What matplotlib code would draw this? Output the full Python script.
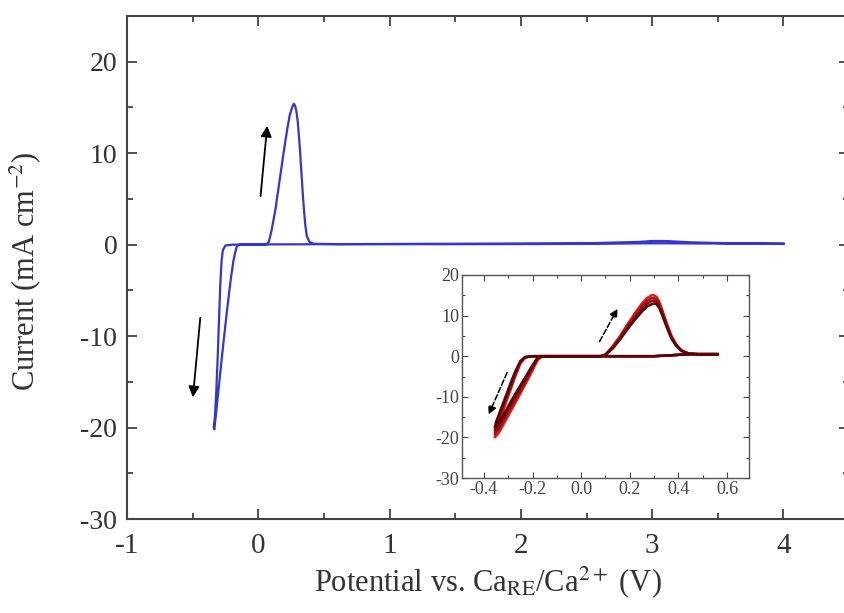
import matplotlib.pyplot as plt
from matplotlib.ticker import MultipleLocator

plt.rcParams['font.family'] = ['Liberation Serif', 'DejaVu Serif']
plt.rcParams['mathtext.fontset'] = 'stix'
plt.rcParams['axes.unicode_minus'] = False

# main CV (blue), potential in V, current in mA cm-2
main_v = [4.00, 3.60, 3.30, 3.10, 3.00, 2.90, 2.50, 1.50, 0.50, 0.00, -0.20,
          -0.25, -0.27, -0.28, -0.29, -0.30, -0.31, -0.32, -0.33, -0.34, -0.335,
          -0.32, -0.30, -0.27, -0.24, -0.21, -0.19, -0.17, -0.16, -0.14, 0.00,
          0.06, 0.08, 0.10, 0.13, 0.16, 0.19, 0.22, 0.24, 0.26, 0.27, 0.28,
          0.29, 0.30, 0.31, 0.32, 0.33, 0.34, 0.35, 0.36, 0.37, 0.39, 0.42,
          0.60, 1.50, 2.50, 3.00, 3.50, 4.00]
main_i = [0.10, 0.15, 0.25, 0.40, 0.40, 0.30, 0.15, 0.10, 0.05, 0.02, 0.00,
          -0.10, -0.60, -1.80, -4.50, -8.50, -12.5, -16.0, -18.8, -20.0, -20.2,
          -18.2, -15.4, -11.3, -7.40, -3.80, -1.80, -0.50, -0.10, 0.00, 0.00,
          0.00, 0.30, 1.50, 3.80, 6.80, 9.80, 12.6, 14.2, 15.1, 15.4, 15.2,
          14.6, 13.5, 11.8, 9.80, 7.50, 5.30, 3.40, 1.90, 0.90, 0.30, 0.10,
          0.05, 0.05, 0.08, 0.15, 0.12, 0.10]

# inset: repeated cycles (dark red / red)
cyc_v = [0.56, 0.50, 0.45, 0.30, 0.10, -0.10, -0.20, -0.23, -0.25, -0.27,
         -0.29, -0.31, -0.33, -0.35, -0.355, -0.34, -0.31, -0.28, -0.25,
         -0.22, -0.20, -0.18, -0.16, 0.00, 0.08, 0.10, 0.13, 0.16, 0.19,
         0.22, 0.25, 0.27, 0.29, 0.30, 0.31, 0.32, 0.33, 0.35, 0.37, 0.39,
         0.41, 0.43, 0.45, 0.48, 0.52, 0.56]
cyc_i = [
    [0.5, 0.5, 0.5, 0.0, 0.0, 0.0, 0.0, -0.3, -1.8, -4.8, -8.2, -11.5, -15.0,
     -18.6, -20.0, -19.0, -15.8, -12.5, -9.2, -5.8, -3.5, -1.0, 0.0, 0.0,
     0.0, 0.4, 2.5, 5.0, 7.8, 10.5, 13.0, 14.3, 15.0, 15.0, 14.6, 13.6,
     12.0, 8.5, 5.2, 3.0, 1.6, 0.9, 0.6, 0.5, 0.5, 0.5],
    [0.5, 0.5, 0.5, 0.0, 0.0, 0.0, 0.0, -0.3, -1.6, -4.4, -7.8, -11.0, -14.4,
     -17.8, -19.2, -18.2, -15.0, -11.8, -8.6, -5.3, -3.0, -0.8, 0.0, 0.0,
     0.0, 0.4, 2.3, 4.7, 7.4, 10.0, 12.4, 13.6, 14.3, 14.3, 14.0, 13.0,
     11.4, 8.0, 4.9, 2.8, 1.5, 0.9, 0.6, 0.5, 0.5, 0.5],
    [0.5, 0.5, 0.5, 0.0, 0.0, 0.0, 0.0, -0.2, -1.4, -4.0, -7.2, -10.4, -13.7,
     -17.0, -18.3, -17.4, -14.2, -11.0, -7.9, -4.8, -2.6, -0.6, 0.0, 0.0,
     0.0, 0.3, 2.1, 4.4, 7.0, 9.4, 11.7, 12.9, 13.6, 13.7, 13.4, 12.5,
     11.0, 7.7, 4.7, 2.7, 1.5, 0.9, 0.6, 0.5, 0.5, 0.5],
    [0.5, 0.5, 0.5, 0.0, 0.0, 0.0, 0.0, -0.2, -1.2, -3.6, -6.6, -9.8, -13.0,
     -16.2, -17.5, -16.6, -13.4, -10.2, -7.2, -4.2, -2.2, -0.4, 0.0, 0.0,
     0.0, 0.3, 1.9, 4.1, 6.6, 8.9, 11.0, 12.2, 12.8, 13.0, 12.8, 12.0,
     10.6, 7.4, 4.5, 2.6, 1.4, 0.8, 0.6, 0.5, 0.5, 0.5],
]
cyc_colors = ['#e02020', '#b01010', '#8a0a0a', '#5a0505']

fig = plt.figure(figsize=(8.44, 6.13), dpi=100)
ax = fig.add_axes([0.1505, 0.1533, 0.8555, 0.8206])
ax.plot(main_v, main_i, color='#3535d0', lw=1.6)
ax.set_xlim(-1, 4.5)
ax.set_ylim(-30, 25)
ax.xaxis.set_major_locator(MultipleLocator(1))
ax.xaxis.set_minor_locator(MultipleLocator(0.5))
ax.yaxis.set_major_locator(MultipleLocator(10))
ax.yaxis.set_minor_locator(MultipleLocator(5))
ax.tick_params(which='both', direction='in', top=True, right=True,
               width=1.2, colors='#333333')
ax.tick_params(axis='y', labelsize=20, pad=7)
ax.tick_params(axis='x', labelsize=21, pad=10)
ax.tick_params(which='major', length=7)
ax.tick_params(which='minor', length=4)
for s in ax.spines.values():
    s.set_linewidth(1.5)
    s.set_color('#444444')
ax.set_xlabel(r'Potential vs. Ca$_{\mathrm{RE}}$/Ca$^{2+}$ (V)', fontsize=22,
              color='#333333')
ax.xaxis.set_label_coords(0.5, -0.09)
ax.set_ylabel(r'Current (mA cm$^{-2}$)', fontsize=22, color='#333333')
ax.yaxis.set_label_coords(-0.116, 0.493)

ax.annotate('', xy=(0.07, 13.3), xytext=(0.015, 5.0),
            arrowprops=dict(arrowstyle='-|>', color='black', lw=1.3,
                            mutation_scale=16))
ax.annotate('', xy=(-0.50, -17.0), xytext=(-0.44, -7.7),
            arrowprops=dict(arrowstyle='-|>', color='black', lw=1.3,
                            mutation_scale=16))

ins = fig.add_axes([0.5474, 0.2202, 0.340, 0.3312])
for cur, col in zip(cyc_i, cyc_colors):
    ins.plot(cyc_v, cur, color=col, lw=1.8)
ins.set_xlim(-0.49, 0.69)
ins.set_ylim(-30, 20)
ins.xaxis.set_minor_locator(MultipleLocator(0.1))
ins.yaxis.set_major_locator(MultipleLocator(10))
ins.yaxis.set_minor_locator(MultipleLocator(5))
ins.set_xticks([-0.4, -0.2, 0.0, 0.2, 0.4, 0.6])
ins.set_xticklabels(['-0.4', '-0.2', '0.0', '0.2', '0.4', '0.6'])
ins.tick_params(which='both', direction='in', top=True, right=True,
                labelsize=13, width=0.8, colors='#444444', pad=2)
ins.tick_params(which='major', length=4)
ins.tick_params(which='minor', length=2)
for s in ins.spines.values():
    s.set_linewidth(1.0)
    s.set_color('#555555')

ins.annotate('', xy=(-0.385, -15.0), xytext=(-0.30, -3.4),
             arrowprops=dict(arrowstyle='-|>', color='black', lw=1.1,
                             linestyle='--', mutation_scale=12))
ins.annotate('', xy=(0.155, 12.3), xytext=(0.07, 3.0),
             arrowprops=dict(arrowstyle='-|>', color='black', lw=1.1,
                             linestyle='--', mutation_scale=12))

fig.savefig('out.png', dpi=100)
